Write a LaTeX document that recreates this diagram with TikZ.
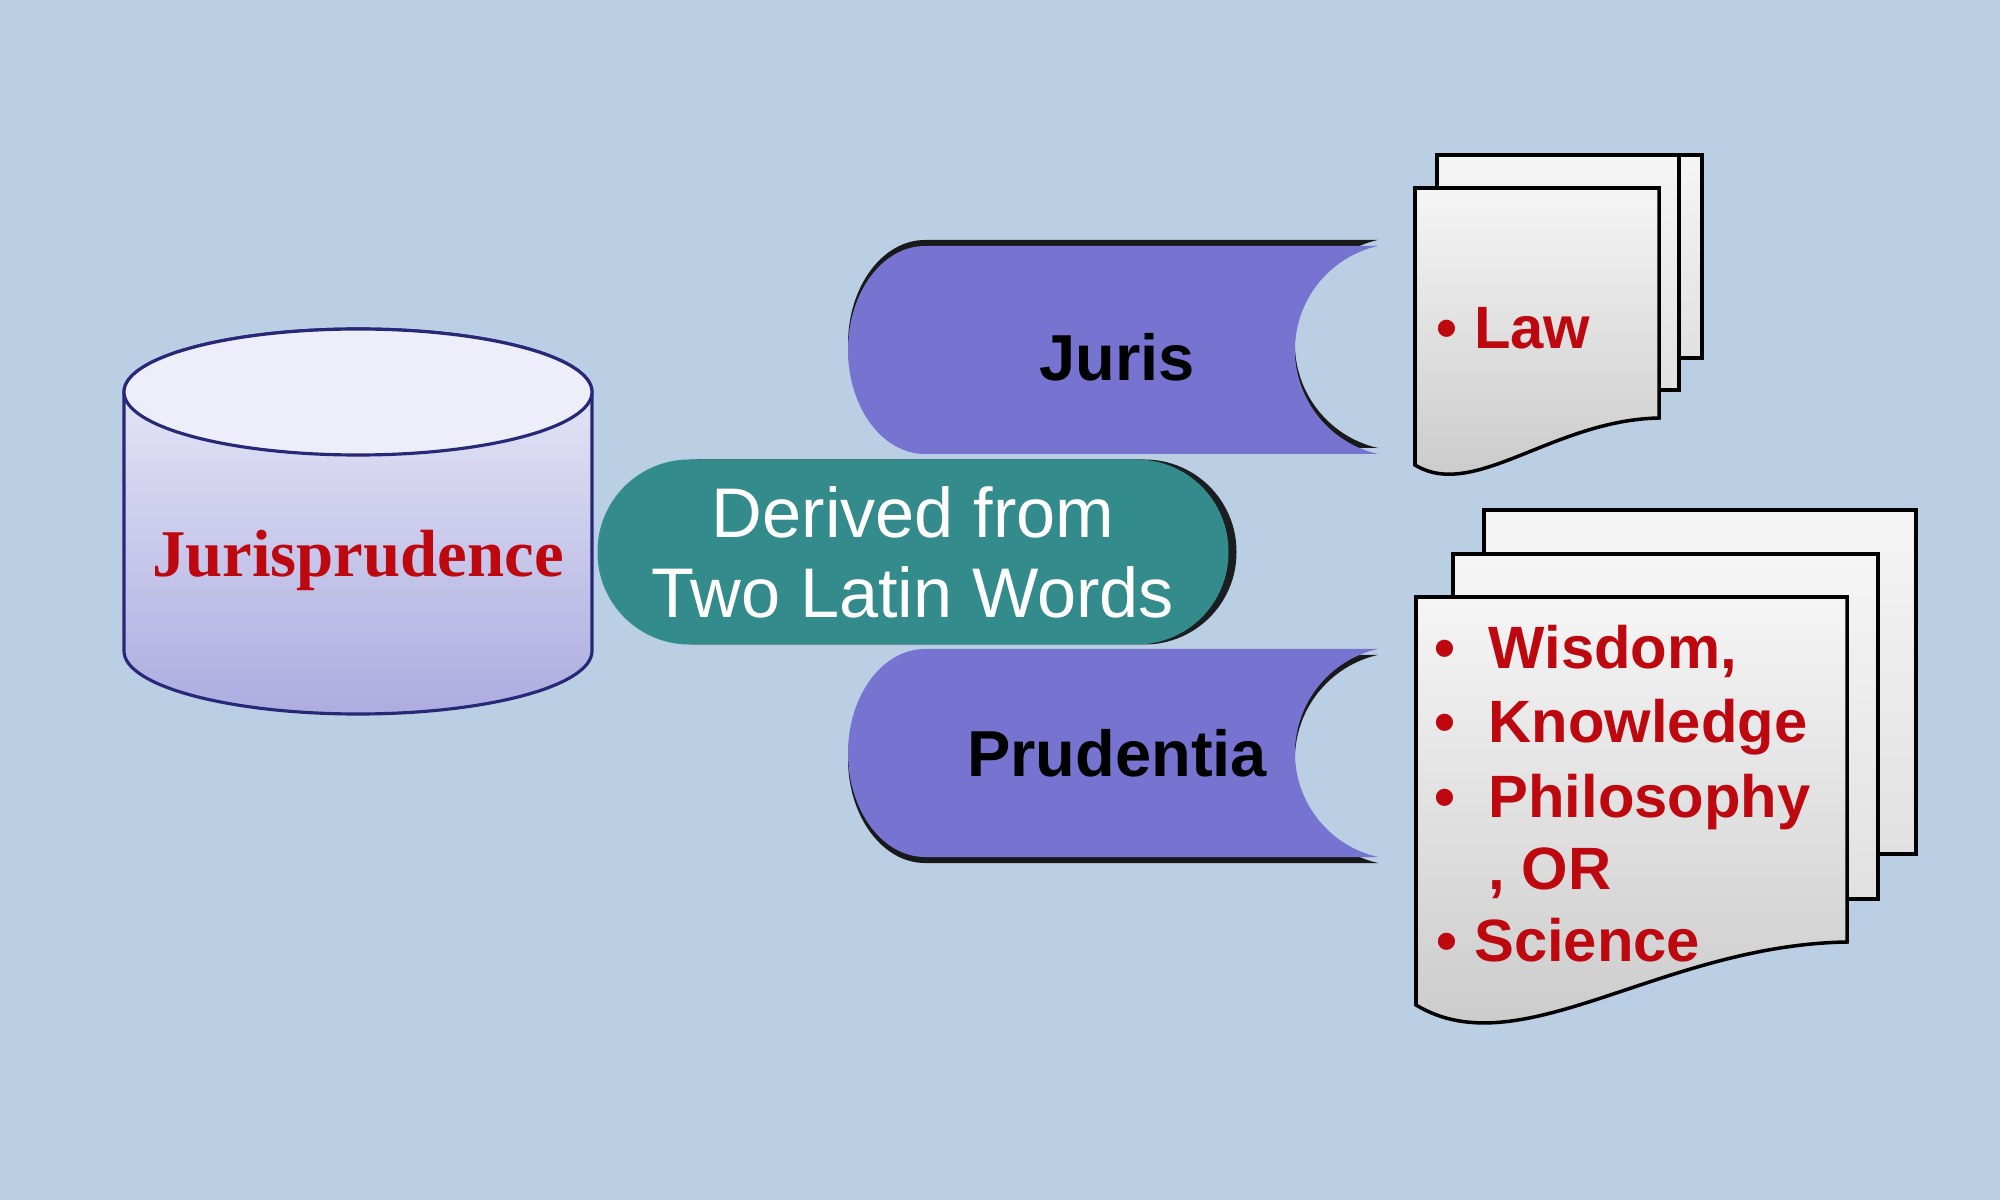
\documentclass[tikz,border=0pt]{standalone}
\usepackage{fontspec}
\setmainfont{Liberation Sans}
\newfontfamily\titleserif{Liberation Serif}
\usetikzlibrary{shadows}

\definecolor{bgblue}{RGB}{186,206,228}
\definecolor{cyltop}{RGB}{238,238,250}
\definecolor{cylbot}{RGB}{172,172,224}
\definecolor{cylline}{RGB}{40,40,120}
\definecolor{pillteal}{RGB}{52,139,140}
\definecolor{bannerblue}{RGB}{118,116,208}
\definecolor{textred}{RGB}{190,8,16}
\definecolor{pagetop}{RGB}{245,245,245}
\definecolor{pagebot}{RGB}{200,200,200}

\newcommand{\bannerpath}[1]{(1378,#1-104) -- (925,#1-104) arc[start angle=-90,end angle=-270,x radius=77,y radius=104] -- (1378,#1+104) arc[start angle=102.8,end angle=257.2,radius=106.7] -- cycle}

\begin{document}
\begin{tikzpicture}[x=0.1mm,y=-0.1mm,
  page/.style={draw=black,line width=1pt,top color=pagetop,bottom color=pagebot},
  backpage/.style={page,bottom color=pagebot!45!pagetop},
  pill/.style={rectangle,rounded corners=9.2mm,fill=pillteal,minimum width=63.1mm,minimum height=18.5mm,inner sep=0pt,
    text=white,align=center,font=\fontsize{20}{22.8}\selectfont,
    drop shadow={shadow xshift=0.8mm,shadow yshift=0mm,fill=black,opacity=0.85}},
  word/.style={font=\bfseries\fontsize{18.5}{22}\selectfont,text=black},
  item/.style={font=\bfseries\fontsize{17}{20}\selectfont,text=textred,anchor=base west,inner sep=0pt}]

\fill[bgblue] (0,0) rectangle (2000,1200);

\path[draw=cylline,line width=0.9pt,top color=cyltop,bottom color=cylbot]
  (124,392) -- (124,651) arc[start angle=180,end angle=0,x radius=234,y radius=63]
  -- (592,392) arc[start angle=0,end angle=-180,x radius=234,y radius=63] -- cycle;
\draw[draw=cylline,line width=0.9pt,fill=cyltop] (358,392) ellipse[x radius=234,y radius=63];
\node[font=\titleserif\bfseries\fontsize{19}{22}\selectfont,text=textred,anchor=base] (jurisprudence) at (358,577) {Jurisprudence};

\fill[black!90,yshift=0.6mm] \bannerpath{350};
\fill[bannerblue] \bannerpath{350};
\fill[black!90,yshift=-0.6mm] \bannerpath{753};
\fill[bannerblue] \bannerpath{753};
\node[word] (juris) at (1117,357) {Juris};
\node[word] (prudentia) at (1117,753) {Prudentia};

\node[pill] (derived) at (913,552) {Derived from\\Two Latin Words};

\path[backpage] (1458,155) rectangle (1702,358);
\path[backpage] (1437,155) rectangle (1679,390);
\path[page] (1415,465) -- (1415,188) -- (1659,188) -- (1659,418) .. controls (1553,420) and (1474,501) .. (1415,465) -- cycle;
\node[item] (law) at (1436,349) {\textbullet\ Law};

\path[backpage] (1484,510) rectangle (1916,854);
\path[backpage] (1453,554) rectangle (1878,899);
\path[page] (1416,1005) -- (1416,597) -- (1847,597) -- (1847,942) .. controls (1660,945) and (1520,1068) .. (1416,1005) -- cycle;
\node[item] (wisdom) at (1434,669) {\textbullet\hspace{3.3mm}Wisdom,};
\node[item] (knowledge) at (1434,743) {\textbullet\hspace{3.3mm}Knowledge};
\node[item] (philosophy) at (1434,817) {\textbullet\hspace{3.3mm}Philosophy};
\node[item] (or) at (1488,890) {, OR};
\node[item] (science) at (1436,961) {\textbullet\ Science};
\end{tikzpicture}
\end{document}
